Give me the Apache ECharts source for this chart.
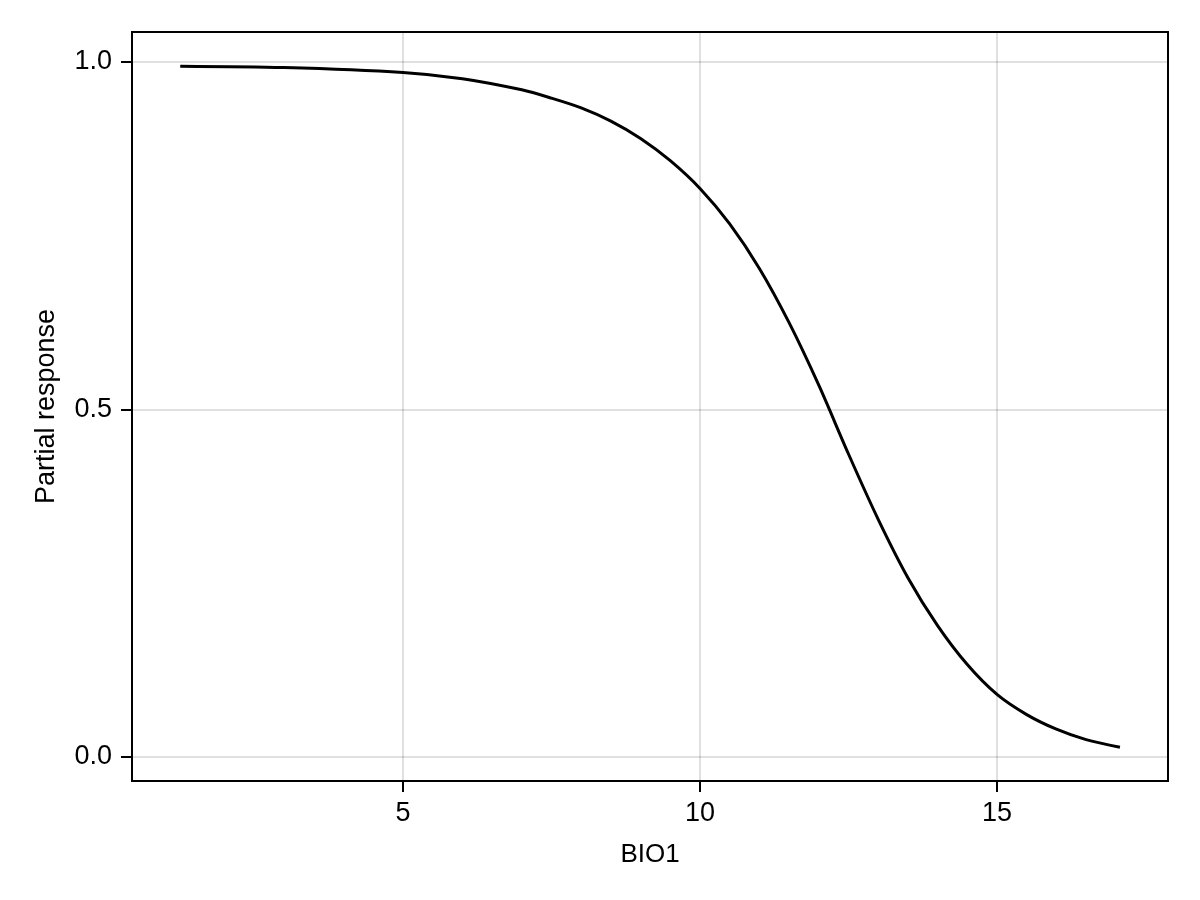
<!DOCTYPE html>
<html>
<head>
<meta charset="utf-8">
<script src="https://cdn.jsdelivr.net/npm/echarts@6/dist/echarts.min.js"></script>
<style>
  html, body { margin: 0; padding: 0; background: #fff; }
  #chart { width: 1200px; height: 900px; }
</style>
</head>
<body>
<div id="chart"></div>
<script>
  // values
  var bio1 = [1.25, 3, 5, 6, 7, 7.5, 8, 8.5, 9, 9.5, 10, 10.5, 11, 11.5, 12, 12.5, 13, 13.5, 14, 14.5, 15, 15.5, 16, 16.5, 17.07];
  var response = [0.994, 0.992, 0.985, 0.976, 0.960, 0.948, 0.934, 0.915, 0.890, 0.858, 0.818, 0.767, 0.703, 0.625, 0.535, 0.436, 0.342, 0.258, 0.189, 0.133, 0.09, 0.061, 0.04, 0.025, 0.014];
  var xTicks = [5, 10, 15];
  var yTicks = [0, 0.5, 1];

  var chart = echarts.init(document.getElementById('chart'));
  var font = 'Liberation Sans';
  var points = bio1.map(function (x, i) { return [x, response[i]]; });

  chart.setOption({
    animation: false,
    backgroundColor: '#fff',
    textStyle: { fontFamily: font },
    grid: {
      left: 132, right: 32, top: 32, bottom: 119,
      show: true,
      borderColor: '#000',
      borderWidth: 2,
      backgroundColor: 'transparent'
    },
    xAxis: {
      type: 'value',
      min: 0.438,
      max: 17.879,
      name: 'BIO1',
      nameLocation: 'middle',
      nameGap: 61,
      nameTextStyle: { fontSize: 26, color: '#000', fontFamily: font },
      axisLine: { show: true, onZero: false, lineStyle: { color: '#000', width: 2 } },
      axisTick: { show: true, inside: false, length: 11, customValues: xTicks, lineStyle: { color: '#000', width: 2 } },
      axisLabel: { customValues: xTicks, margin: 19, fontSize: 27, color: '#000', fontFamily: font },
      splitLine: { show: true, lineStyle: { color: 'rgba(0,0,0,0.12)', width: 2 } }
    },
    yAxis: {
      type: 'value',
      min: -0.0345,
      max: 1.0432,
      name: 'Partial response',
      nameLocation: 'middle',
      nameGap: 72,
      nameTextStyle: { fontSize: 27, color: '#000', fontFamily: font },
      axisLine: { show: true, onZero: false, lineStyle: { color: '#000', width: 2 } },
      axisTick: { show: true, inside: false, length: 11, customValues: yTicks, lineStyle: { color: '#000', width: 2 } },
      axisLabel: {
        customValues: yTicks, margin: 20, fontSize: 27, color: '#000', fontFamily: font,
        formatter: function (v) { return v.toFixed(1); }
      },
      splitLine: { show: true, lineStyle: { color: 'rgba(0,0,0,0.12)', width: 2 } }
    },
    series: [{
      type: 'line',
      data: points,
      smooth: 0.3,
      showSymbol: false,
      lineStyle: { color: '#000', width: 3 }
    }]
  });
</script>
</body>
</html>
